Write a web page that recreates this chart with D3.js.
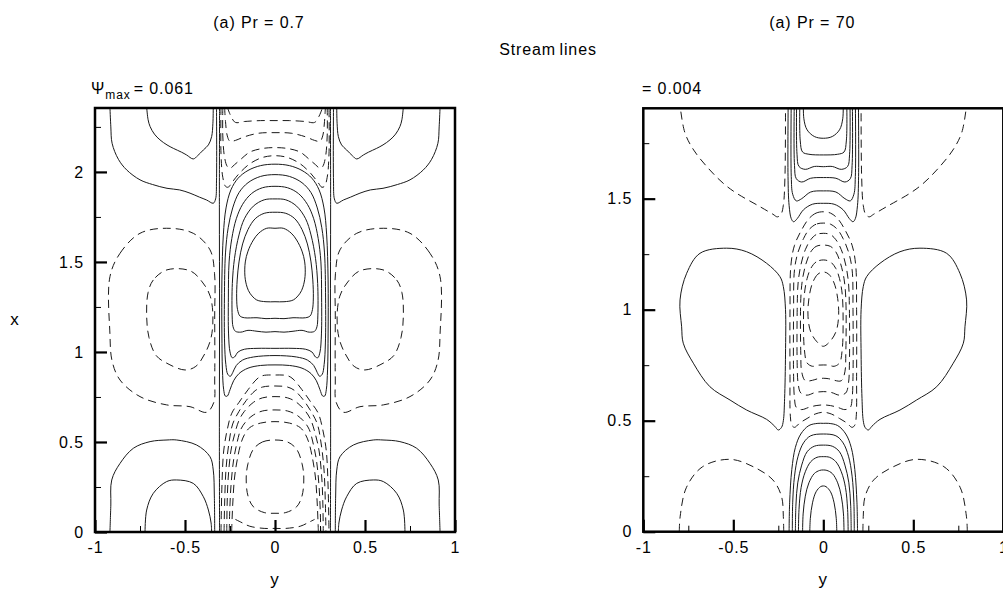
<!DOCTYPE html>
<html><head><meta charset="utf-8">
<script src="https://cdn.jsdelivr.net/npm/d3@7"></script>
<style>
body{margin:0;background:#fff;}
svg{display:block;}
text{font-family:"Liberation Sans",Arial,Helvetica,sans-serif;fill:#000;letter-spacing:0.9px;}
</style>
</head><body>
<svg id="chart" width="1003" height="589"></svg>
<script>
// ---------------- DATA (points are [y, x] in data units; left halves, mirrored about y = 0) -------------
const mainTitle = "Stream lines";
const panelTitles = ["(a) Pr = 0.7", "(a) Pr = 70"];
const psiMaxLabels = ["= 0.061", "= 0.004"];
const xTickValues = [-1, -0.5, 0, 0.5, 1];
const xMinorTicks = [-0.75, -0.25, 0.25, 0.75];
const yTicksLeft = [0, 0.5, 1, 1.5, 2];
const yMinorLeft = [0.25, 0.75, 1.25, 1.75, 2.25];
const yTicksRight = [0, 0.5, 1, 1.5];
const yMinorRight = [0.25, 0.75, 1.25, 1.75];
const xDomainLeft = [0, 2.355];
const xDomainRight = [0, 1.907];

// Pr = 0.7 : solid (positive) contours
const pr07CentreCell = [
  [[0,1.687],[-0.046,1.687],[-0.09,1.66],[-0.12,1.622],[-0.15,1.56],[-0.165,1.5],[-0.167,1.42],[-0.155,1.36],[-0.139,1.326],[-0.102,1.289],[-0.05,1.279],[0,1.279]],
  [[0,1.776],[-0.06,1.77],[-0.11,1.74],[-0.15,1.68],[-0.18,1.6],[-0.2,1.5],[-0.21,1.4],[-0.213,1.3],[-0.208,1.235],[-0.195,1.2],[-0.17,1.19],[-0.1,1.19],[-0.05,1.185],[0,1.187]],
  [[0,1.85],[-0.06,1.845],[-0.12,1.81],[-0.17,1.74],[-0.2,1.65],[-0.225,1.52],[-0.237,1.38],[-0.238,1.2],[-0.233,1.14],[-0.22,1.115],[-0.19,1.11],[-0.15,1.12],[-0.1,1.115],[-0.05,1.11],[0,1.113]],
  [[0,1.92],[-0.07,1.912],[-0.13,1.88],[-0.18,1.82],[-0.215,1.74],[-0.24,1.63],[-0.255,1.5],[-0.259,1.3],[-0.258,1.1],[-0.25,1.0],[-0.238,0.968],[-0.225,0.972],[-0.205,1.0],[-0.17,1.015],[-0.1,1.02],[0,1.02]],
  [[0,1.985],[-0.08,1.975],[-0.15,1.94],[-0.2,1.885],[-0.235,1.8],[-0.26,1.69],[-0.275,1.55],[-0.281,1.3],[-0.28,1.05],[-0.273,0.93],[-0.262,0.875],[-0.248,0.865],[-0.235,0.885],[-0.215,0.925],[-0.18,0.955],[-0.12,0.972],[0,0.98]],
  [[0,2.043],[-0.08,2.035],[-0.15,2.008],[-0.205,1.965],[-0.245,1.9],[-0.272,1.8],[-0.287,1.65],[-0.295,1.4],[-0.295,1.1],[-0.292,0.9],[-0.285,0.79],[-0.276,0.755],[-0.265,0.755],[-0.25,0.79],[-0.23,0.84],[-0.2,0.88],[-0.15,0.91],[-0.08,0.925],[0,0.928]]
];
const pr07TopSideCells = [
  [[-0.917,2.36],[-0.912,2.25],[-0.905,2.159],[-0.87,2.07],[-0.824,2.011],[-0.75,1.956],[-0.68,1.93],[-0.6,1.909],[-0.53,1.9],[-0.472,1.882],[-0.42,1.86],[-0.38,1.844],[-0.343,1.826],[-0.33,1.85],[-0.325,1.95],[-0.325,2.36]],
  [[-0.713,2.36],[-0.705,2.29],[-0.694,2.252],[-0.67,2.21],[-0.639,2.178],[-0.6,2.15],[-0.565,2.131],[-0.52,2.11],[-0.491,2.094],[-0.454,2.072],[-0.43,2.09],[-0.398,2.122],[-0.37,2.15],[-0.352,2.196],[-0.345,2.27],[-0.343,2.36]]
];
const pr07BottomSideCells = [
  [[-0.917,0],[-0.912,0.15],[-0.907,0.289],[-0.861,0.381],[-0.787,0.465],[-0.694,0.502],[-0.6,0.511],[-0.546,0.511],[-0.435,0.483],[-0.361,0.418],[-0.343,0.344],[-0.337,0.2],[-0.335,0]],
  [[-0.722,0],[-0.713,0.122],[-0.676,0.215],[-0.602,0.28],[-0.546,0.289],[-0.454,0.27],[-0.398,0.196],[-0.37,0.122],[-0.355,0.05],[-0.352,0]]
];
const pr07ZeroLines = [
  [[-0.308,0],[-0.309,0.6],[-0.308,1.2],[-0.309,1.8],[-0.308,2.36]]
];
// Pr = 0.7 : dashed (negative) contours
const pr07SideVortices = [
  [[-0.917,1.418],[-0.861,1.548],[-0.75,1.659],[-0.602,1.687],[-0.454,1.659],[-0.361,1.567],[-0.336,1.437],[-0.335,1.2],[-0.335,0.85],[-0.34,0.72],[-0.38,0.665],[-0.472,0.696],[-0.602,0.706],[-0.75,0.752],[-0.861,0.844],[-0.905,0.95],[-0.917,1.1],[-0.917,1.418]],
  [[-0.6,1.456],[-0.676,1.4],[-0.705,1.33],[-0.713,1.2],[-0.7,1.08],[-0.66,0.98],[-0.6,0.937],[-0.5,0.9],[-0.44,0.92],[-0.39,0.99],[-0.355,1.08],[-0.345,1.2],[-0.36,1.31],[-0.4,1.383],[-0.47,1.45],[-0.6,1.456]]
];
const pr07TopArches = [
  [[-0.265,2.36],[-0.245,2.31],[-0.22,2.275],[-0.17,2.28],[-0.08,2.285],[0,2.285]],
  [[-0.28,2.36],[-0.275,2.28],[-0.265,2.2],[-0.25,2.17],[-0.22,2.175],[-0.17,2.195],[-0.09,2.215],[0,2.218]],
  [[-0.29,2.36],[-0.29,2.2],[-0.28,2.08],[-0.265,2.03],[-0.25,2.02],[-0.225,2.04],[-0.19,2.07],[-0.14,2.11],[-0.07,2.13],[0,2.135]],
  [[-0.30,2.36],[-0.30,2.1],[-0.29,1.97],[-0.275,1.92],[-0.26,1.915],[-0.24,1.94],[-0.2,1.99],[-0.14,2.045],[-0.07,2.08],[0,2.09]]
];
const pr07BottomArches = [
  [[-0.241,0],[-0.235,0.15],[-0.225,0.3],[-0.21,0.4],[-0.19,0.49],[-0.17,0.54],[-0.14,0.58],[-0.08,0.605],[0,0.613]],
  [[-0.254,0],[-0.252,0.1],[-0.245,0.25],[-0.23,0.4],[-0.21,0.5],[-0.19,0.57],[-0.16,0.615],[-0.12,0.65],[-0.07,0.672],[0,0.678]],
  [[-0.268,0],[-0.266,0.15],[-0.26,0.3],[-0.245,0.45],[-0.225,0.54],[-0.2,0.62],[-0.17,0.67],[-0.12,0.72],[-0.07,0.745],[0,0.752]],
  [[-0.283,0],[-0.28,0.15],[-0.272,0.35],[-0.255,0.5],[-0.235,0.6],[-0.2,0.67],[-0.16,0.73],[-0.11,0.785],[-0.07,0.805],[0,0.811]],
  [[-0.3,0],[-0.295,0.25],[-0.285,0.45],[-0.265,0.57],[-0.24,0.66],[-0.2,0.72],[-0.15,0.79],[-0.1,0.85],[-0.07,0.868],[0,0.872]],
  [[0,0.511],[-0.07,0.5],[-0.12,0.46],[-0.15,0.38],[-0.16,0.3],[-0.15,0.2],[-0.12,0.14],[-0.06,0.108],[0,0.104]],
  [[-0.22,0.07],[-0.19,0.055],[-0.14,0.032],[-0.06,0.02],[0,0.02]]
];

// Pr = 70 : solid (positive) contours
const pr70TopCell = [
  [[-0.11,1.95],[-0.108,1.86],[-0.09,1.81],[-0.05,1.78],[0,1.772]],
  [[-0.13,1.95],[-0.128,1.76],[-0.115,1.71],[-0.08,1.7],[0,1.697]],
  [[-0.148,1.95],[-0.146,1.7],[-0.135,1.645],[-0.1,1.632],[-0.05,1.645],[0,1.644]],
  [[-0.161,1.95],[-0.16,1.65],[-0.15,1.59],[-0.12,1.575],[-0.07,1.592],[0,1.595]],
  [[-0.178,1.95],[-0.178,1.6],[-0.17,1.52],[-0.15,1.49],[-0.12,1.5],[-0.07,1.53],[0,1.535]],
  [[-0.195,1.95],[-0.196,1.6],[-0.19,1.47],[-0.178,1.41],[-0.165,1.396],[-0.145,1.41],[-0.11,1.45],[-0.06,1.475],[0,1.479]]
];
const pr70SideLobes = [
  [[-0.222,1.104],[-0.241,1.149],[-0.315,1.209],[-0.426,1.261],[-0.537,1.277],[-0.685,1.254],[-0.759,1.164],[-0.796,1.044],[-0.787,0.923],[-0.778,0.849],[-0.722,0.759],[-0.63,0.653],[-0.518,0.593],[-0.426,0.548],[-0.315,0.506],[-0.27,0.475],[-0.25,0.458],[-0.232,0.47],[-0.222,0.5],[-0.215,0.6],[-0.21,0.8],[-0.21,1.0],[-0.222,1.104]]
];
const pr70BottomCell = [
  [[-0.19,0],[-0.187,0.13],[-0.175,0.28],[-0.155,0.38],[-0.125,0.44],[-0.08,0.478],[-0.03,0.488],[0,0.488]],
  [[-0.172,0],[-0.17,0.13],[-0.16,0.25],[-0.14,0.34],[-0.11,0.4],[-0.07,0.432],[0,0.44]],
  [[-0.155,0],[-0.152,0.12],[-0.142,0.22],[-0.12,0.3],[-0.09,0.36],[-0.05,0.385],[0,0.39]],
  [[-0.138,0],[-0.135,0.1],[-0.123,0.2],[-0.1,0.27],[-0.07,0.315],[-0.035,0.335],[0,0.338]],
  [[-0.115,0],[-0.112,0.08],[-0.1,0.16],[-0.08,0.22],[-0.05,0.262],[-0.02,0.276],[0,0.278]],
  [[-0.075,0],[-0.072,0.06],[-0.06,0.13],[-0.04,0.18],[-0.015,0.203],[0,0.206]]
];
// Pr = 70 : dashed (negative) contours
const pr70UpperVortex = [
  [[-0.8,1.95],[-0.77,1.8],[-0.72,1.719],[-0.63,1.629],[-0.55,1.565],[-0.481,1.524],[-0.352,1.464],[-0.28,1.43],[-0.255,1.418],[-0.235,1.43],[-0.222,1.47],[-0.213,1.6],[-0.21,1.95]]
];
const pr70LowerVortices = [
  [[-0.8,0],[-0.795,0.07],[-0.76,0.2],[-0.67,0.293],[-0.52,0.326],[-0.39,0.293],[-0.28,0.233],[-0.232,0.158],[-0.222,0.068],[-0.22,0]]
];
const pr70CoreLoops = [
  [[0,1.17],[-0.03,1.16],[-0.06,1.12],[-0.08,1.05],[-0.085,0.97],[-0.07,0.9],[-0.035,0.855],[0,0.835]],
  [[0,1.224],[-0.04,1.215],[-0.07,1.185],[-0.09,1.14],[-0.105,1.07],[-0.11,0.95],[-0.105,0.82],[-0.09,0.76],[-0.06,0.745],[-0.03,0.75],[0,0.751]],
  [[0,1.291],[-0.04,1.285],[-0.07,1.26],[-0.095,1.21],[-0.115,1.14],[-0.125,1.05],[-0.125,0.8],[-0.12,0.72],[-0.1,0.68],[-0.06,0.682],[-0.03,0.689],[0,0.691]],
  [[0,1.344],[-0.04,1.338],[-0.07,1.315],[-0.1,1.27],[-0.125,1.2],[-0.14,1.12],[-0.145,1.0],[-0.145,0.75],[-0.14,0.67],[-0.125,0.625],[-0.09,0.615],[-0.045,0.627],[0,0.631]],
  [[0,1.39],[-0.04,1.385],[-0.08,1.36],[-0.11,1.32],[-0.14,1.26],[-0.16,1.18],[-0.165,1.0],[-0.165,0.7],[-0.16,0.6],[-0.15,0.56],[-0.12,0.55],[-0.08,0.56],[-0.04,0.568],[0,0.571]],
  [[0,1.441],[-0.04,1.435],[-0.08,1.41],[-0.12,1.36],[-0.16,1.29],[-0.18,1.2],[-0.185,1.0],[-0.185,0.7],[-0.183,0.52],[-0.175,0.48],[-0.16,0.47],[-0.13,0.49],[-0.09,0.51],[-0.045,0.53],[0,0.538]]
];

// ---------------- RENDERING ----------------
const svg = d3.select("#chart");
const FONT = 16;
const FAMILY = '"Liberation Sans", Arial, Helvetica, sans-serif';

function expand(half) {
  const mir = p => [-p[0], p[1]];
  const first = half[0], last = half[half.length - 1];
  if (last[0] === 0 && first[0] === 0) {
    return [{pts: half.concat(half.slice(1, -1).reverse().map(mir)), closed: true}];
  }
  if (last[0] === 0) {
    return [{pts: half.concat(half.slice(0, -1).reverse().map(mir)), closed: false}];
  }
  const closed = first[0] === last[0] && first[1] === last[1];
  const h = closed ? half.slice(0, -1) : half;
  return [{pts: h, closed}, {pts: h.map(mir), closed}];
}

function drawPanel(cfg) {
  const xs = d3.scaleLinear().domain([-1, 1]).range(cfg.xRange);
  const ys = d3.scaleLinear().domain(cfg.yDomain).range(cfg.yRange);
  const g = svg.append("g");
  const clipId = "clip" + cfg.id;
  svg.append("defs").append("clipPath").attr("id", clipId)
    .append("rect").attr("x", cfg.xRange[0]).attr("y", cfg.yRange[1])
    .attr("width", cfg.xRange[1] - cfg.xRange[0]).attr("height", cfg.yRange[0] - cfg.yRange[1]);
  const cg = g.append("g").attr("clip-path", `url(#${clipId})`);
  const lineOpen = d3.line().x(d => xs(d[0])).y(d => ys(d[1])).curve(d3.curveCatmullRom.alpha(0.5));
  const lineClosed = d3.line().x(d => xs(d[0])).y(d => ys(d[1])).curve(d3.curveCatmullRomClosed.alpha(0.5));
  function drawSet(set, dashed) {
    set.forEach(half => expand(half).forEach(c => {
      cg.append("path").attr("d", (c.closed ? lineClosed : lineOpen)(c.pts))
        .attr("fill", "none").attr("stroke", "#1a1a1a").attr("stroke-width", 1)
        .attr("stroke-dasharray", dashed ? "8,5" : null);
    }));
  }
  cfg.solid.forEach(s => drawSet(s, false));
  cfg.dashed.forEach(s => drawSet(s, true));

  // axes (ticks inward)
  const fmt = d => String(d);
  const yMaj = g.append("g").attr("transform", `translate(${cfg.xRange[0]},0)`)
    .call(d3.axisLeft(ys).tickValues(cfg.yTicks).tickSize(-12).tickPadding(11).tickFormat(fmt));
  const yMin = g.append("g").attr("transform", `translate(${cfg.xRange[0]},0)`)
    .call(d3.axisLeft(ys).tickValues(cfg.yMinor).tickSize(-6).tickFormat(""));
  const xMaj = g.append("g").attr("transform", `translate(0,${cfg.yRange[0]})`)
    .call(d3.axisBottom(xs).tickValues(xTickValues).tickSize(-12).tickPadding(10).tickFormat(fmt));
  const xMin = g.append("g").attr("transform", `translate(0,${cfg.yRange[0]})`)
    .call(d3.axisBottom(xs).tickValues(xMinorTicks).tickSize(-6).tickFormat(""));
  [yMaj, yMin, xMaj, xMin].forEach(a => {
    a.select(".domain").remove();
    a.selectAll("text").attr("font-size", FONT).attr("font-family", FAMILY).attr("fill", "#000");
  });
  [yMaj, xMaj].forEach(a => a.selectAll(".tick line").attr("stroke", "#000").attr("stroke-width", 2.2));
  [yMin, xMin].forEach(a => a.selectAll(".tick line").attr("stroke", "#000").attr("stroke-width", 1));

  // frame
  g.append("rect").attr("x", cfg.xRange[0]).attr("y", cfg.yRange[1])
    .attr("width", cfg.xRange[1] - cfg.xRange[0]).attr("height", cfg.yRange[0] - cfg.yRange[1])
    .attr("fill", "none").attr("stroke", "#000").attr("stroke-width", 2.5);

  // titles
  g.append("text").attr("x", (cfg.xRange[0] + cfg.xRange[1]) / 2 + cfg.titleShift).attr("y", 28)
    .attr("text-anchor", "middle").attr("font-size", FONT).text(cfg.title);
  g.append("text").attr("x", xs(0)).attr("y", 585).attr("text-anchor", "middle")
    .attr("font-size", 17).text("y");
  return {xs, ys, g};
}

const left = drawPanel({
  id: "L", xRange: [95, 455], yRange: [532, 108], yDomain: xDomainLeft,
  yTicks: yTicksLeft, yMinor: yMinorLeft, title: panelTitles[0], titleShift: -16,
  solid: [pr07CentreCell, pr07TopSideCells, pr07BottomSideCells, pr07ZeroLines],
  dashed: [pr07SideVortices, pr07TopArches, pr07BottomArches]
});
const right = drawPanel({
  id: "R", xRange: [643.3, 1003.3], yRange: [531.7, 108.3], yDomain: xDomainRight,
  yTicks: yTicksRight, yMinor: yMinorRight, title: panelTitles[1], titleShift: -11,
  solid: [pr70TopCell, pr70SideLobes, pr70BottomCell],
  dashed: [pr70UpperVortex, pr70LowerVortices, pr70CoreLoops]
});

// x axis label (left panel only)
svg.append("text").attr("x", 15).attr("y", 325).attr("text-anchor", "middle")
  .attr("font-size", 17).text("x");

// main title
svg.append("text").attr("x", 548).attr("y", 55).attr("text-anchor", "middle")
  .attr("font-size", FONT).attr("word-spacing", "-2px").text(mainTitle);

// Psi max labels
const psi = svg.append("text").attr("x", 91).attr("y", 94).attr("font-size", FONT);
psi.append("tspan").text("\u03A8");
psi.append("tspan").attr("font-size", 12).attr("dy", 5).text("max");
psi.append("tspan").attr("dy", -5).attr("dx", 3).text(psiMaxLabels[0]);
svg.append("text").attr("x", 642).attr("y", 94).attr("font-size", FONT).text(psiMaxLabels[1]);
</script>
</body></html>
